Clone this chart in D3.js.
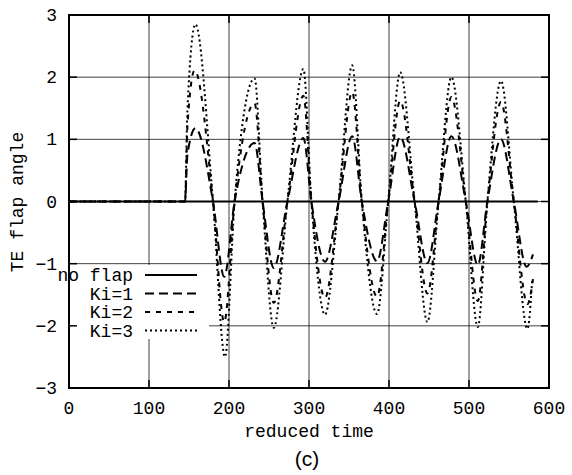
<!DOCTYPE html>
<html>
<head>
<meta charset="utf-8">
<script src="https://cdn.jsdelivr.net/npm/d3@7"></script>
<style>
  html, body { margin: 0; padding: 0; background: #fff; }
  svg { display: block; }
  text { font-family: "Liberation Mono", "Courier New", monospace; fill: #000; }
</style>
</head>
<body>
<svg id="chart" width="572" height="475"></svg>
<script>
// ---- data ----
const xTicks = [0, 100, 200, 300, 400, 500, 600];
const yTicks = [-3, -2, -1, 0, 1, 2, 3];
const seriesNames = ["no flap", "Ki=1", "Ki=2", "Ki=3"];

const noFlapT = [0, 586];
const noFlapV = [0, 0];

// time of key points (start, onset, peaks / zero crossings / troughs, end)
const ki1T = [0, 145, 148, 158, 180, 194, 207, 232, 242, 256, 273, 293, 303, 320, 337, 354, 366, 385, 399, 414, 432, 448, 462, 478, 496, 511, 523, 540, 556, 572, 580];
const ki1V = [0, 0, 0.75, 1.18, 0, -1.21, 0, 0.94, 0, -1.07, 0, 1.02, 0, -0.97, 0, 1.05, 0, -0.96, 0, 1.04, 0, -0.99, 0, 1.05, 0, -1.02, 0, 1.00, 0, -1.05, -0.85];

const ki2T = [0, 145, 148, 157, 180, 194, 207, 232, 242, 256, 273, 293, 303, 320, 337, 354, 366, 385, 399, 414, 432, 448, 462, 478, 496, 511, 523, 540, 556, 573, 580];
const ki2V = [0, 0, 1.20, 2.11, 0, -1.94, 0, 1.58, 0, -1.63, 0, 1.70, 0, -1.55, 0, 1.76, 0, -1.53, 0, 1.62, 0, -1.48, 0, 1.68, 0, -1.60, 0, 1.60, 0, -1.65, -1.25];

const ki3T = [0, 145, 148, 158, 180, 195, 207, 232, 242, 256, 273, 293, 303, 320, 337, 354, 366, 385, 399, 414, 432, 448, 462, 478, 496, 511, 523, 540, 556, 573, 579];
const ki3V = [0, 0, 1.47, 2.85, 0, -2.50, 0, 1.98, 0, -2.03, 0, 2.13, 0, -1.82, 0, 2.19, 0, -1.81, 0, 2.08, 0, -1.94, 0, 2.00, 0, -2.02, 0, 1.94, 0, -2.05, -1.26];

// ---- layout ----
const svg = d3.select("#chart");
const x = d3.scaleLinear().domain([0, 600]).range([69, 549]);
const y = d3.scaleLinear().domain([-3, 3]).range([388, 15]);

const zip = (ts, vs) => ts.map((t, i) => [t, vs[i]]);
const series = [
  { name: seriesNames[0], data: zip(noFlapT, noFlapV), dash: null },
  { name: seriesNames[1], data: zip(ki1T, ki1V), dash: "9,5" },
  { name: seriesNames[2], data: zip(ki2T, ki2V), dash: "5,6" },
  { name: seriesNames[3], data: zip(ki3T, ki3V), dash: "2,3" }
];

// grid
const grid = svg.append("g").attr("stroke", "#000").attr("stroke-width", 1).attr("stroke-opacity", 0.75);
grid.selectAll("line.gx").data(xTicks.slice(1, -1)).join("line")
  .attr("x1", d => x(d)).attr("x2", d => x(d)).attr("y1", y(3)).attr("y2", y(-3));
grid.selectAll("line.gy").data(yTicks.slice(1, -1)).join("line")
  .attr("x1", x(0)).attr("x2", x(600)).attr("y1", d => y(d)).attr("y2", d => y(d));

// curves
const line = d3.line().x(d => x(d[0])).y(d => y(d[1])).curve(d3.curveMonotoneX);
svg.append("g").selectAll("path").data(series).join("path")
  .attr("d", d => line(d.data))
  .attr("fill", "none")
  .attr("stroke", "#000")
  .attr("stroke-width", 2)
  .attr("stroke-dasharray", d => d.dash);

// legend box (opaque)
svg.append("rect").attr("x", 50).attr("y", 265).attr("width", 159).attr("height", 74).attr("fill", "#fff");

// border
svg.append("rect")
  .attr("x", x(0)).attr("y", y(3))
  .attr("width", x(600) - x(0)).attr("height", y(-3) - y(3))
  .attr("fill", "none").attr("stroke", "#000").attr("stroke-width", 2);

// ticks (inward, mirrored)
const tk = 8;
const ticks = svg.append("g").attr("stroke", "#000").attr("stroke-width", 1.5);
xTicks.forEach(v => {
  ticks.append("line").attr("x1", x(v)).attr("x2", x(v)).attr("y1", y(-3)).attr("y2", y(-3) - tk);
  ticks.append("line").attr("x1", x(v)).attr("x2", x(v)).attr("y1", y(3)).attr("y2", y(3) + tk);
});
yTicks.forEach(v => {
  ticks.append("line").attr("x1", x(0)).attr("x2", x(0) + tk).attr("y1", y(v)).attr("y2", y(v));
  ticks.append("line").attr("x1", x(600)).attr("x2", x(600) - tk).attr("y1", y(v)).attr("y2", y(v));
});

// tick labels
const fmt = d3.format("d");
svg.append("g").selectAll("text").data(xTicks).join("text")
  .attr("x", d => x(d)).attr("y", 414)
  .attr("text-anchor", "middle").attr("font-size", 18)
  .text(d => fmt(d));
svg.append("g").selectAll("text").data(yTicks).join("text")
  .attr("x", 57).attr("y", d => y(d) + 6)
  .attr("text-anchor", "end").attr("font-size", 18)
  .text(d => fmt(d));

// axis titles
svg.append("text").attr("x", 309).attr("y", 437).attr("text-anchor", "middle")
  .attr("font-size", 18).text("reduced time");
svg.append("text").attr("transform", "translate(23,202) rotate(-90)")
  .attr("text-anchor", "middle").attr("font-size", 18).text("TE flap angle");
svg.append("text").attr("x", 307).attr("y", 466).attr("text-anchor", "middle")
  .attr("font-size", 21).style("font-family", "'Liberation Sans', Arial, sans-serif").text("(c)");

// legend
const lg = svg.append("g");
series.forEach((s, i) => {
  const by = 281 + i * 18.5;
  lg.append("text").attr("x", 133).attr("y", by).attr("text-anchor", "end")
    .attr("font-size", 18).text(s.name);
  lg.append("line").attr("x1", 145).attr("x2", 197).attr("y1", by - 6).attr("y2", by - 6)
    .attr("stroke", "#000").attr("stroke-width", 2).attr("stroke-dasharray", s.dash);
});
</script>
</body>
</html>
